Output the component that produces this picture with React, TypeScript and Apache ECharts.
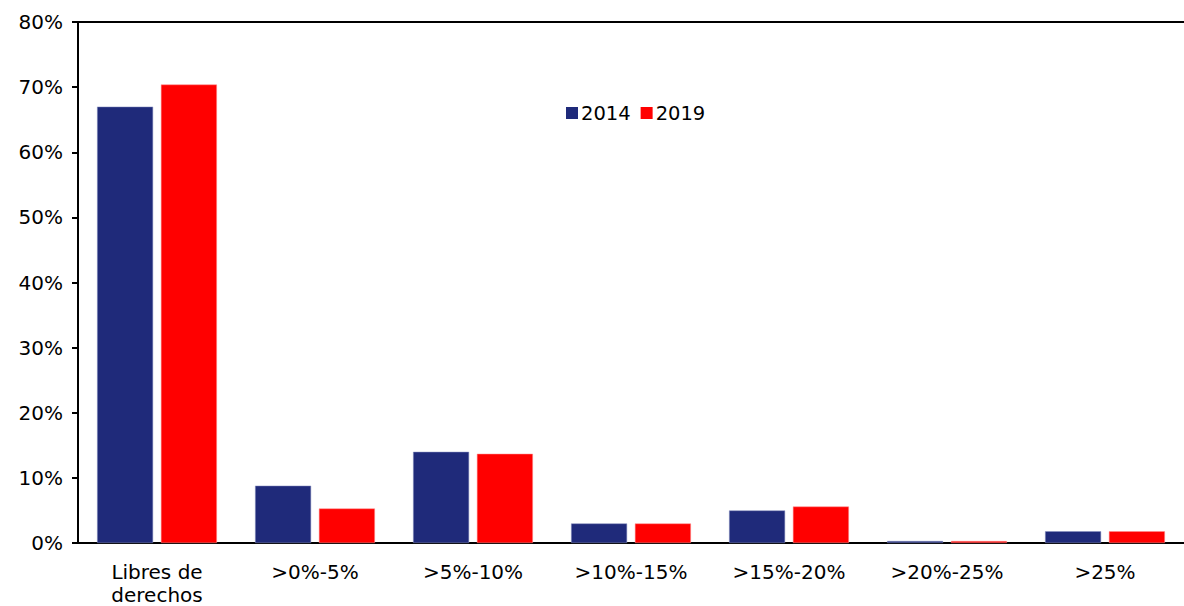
import React, { useEffect, useRef } from "react";
import * as echarts from "echarts";

const categories = ["Libres de\nderechos", ">0%-5%", ">5%-10%", ">10%-15%", ">15%-20%", ">20%-25%", ">25%"];
const series2014 = [67.0, 8.8, 14.0, 3.0, 5.0, 0.3, 1.8];
const series2019 = [70.4, 5.3, 13.7, 3.0, 5.6, 0.3, 1.8];
const seriesNames = ["2014", "2019"];

export default function App() {
  const ref = useRef<HTMLDivElement>(null);
  useEffect(() => {
    if (!ref.current) return;
    const chart = echarts.init(ref.current, null, { renderer: "svg" });
    const font = "DejaVu Sans";
    chart.setOption({
      animation: false,
      backgroundColor: "#ffffff",
      textStyle: { fontFamily: font },
      legend: {
        left: 561,
        top: 98,
        itemWidth: 12,
        itemHeight: 12,
        itemGap: 10,
        icon: "rect",
        itemStyle: { borderWidth: 0 },
        textStyle: { fontFamily: font, fontSize: 19.5, color: "#000", padding: [0, 0, 0, -2] },
        data: seriesNames,
      },
      grid: { left: 78, top: 22, right: -7, bottom: 58, containLabel: false },
      xAxis: {
        type: "category",
        data: categories,
        axisLine: { show: true, lineStyle: { color: "#000", width: 2 } },
        axisTick: { show: false },
        axisLabel: { color: "#000", fontFamily: font, fontSize: 20, margin: 17, lineHeight: 23, interval: 0 },
      },
      yAxis: {
        type: "value",
        min: 0,
        max: 80,
        interval: 10,
        axisLine: { show: true, lineStyle: { color: "#000", width: 2 } },
        axisTick: { show: true, length: 6, lineStyle: { color: "#000", width: 2 } },
        splitLine: { show: false },
        axisLabel: { color: "#000", fontFamily: font, fontSize: 20, margin: 15, formatter: "{value}%" },
      },
      graphic: [
        { type: "line", shape: { x1: 78, y1: 22, x2: 1184, y2: 22 }, style: { stroke: "#000", lineWidth: 2 } },
      ],
      series: [
        {
          name: seriesNames[0],
          type: "bar",
          data: series2014,
          barWidth: 56,
          barGap: "14%",
          itemStyle: { color: "#1F2A7A", borderColor: "#8890c0", borderWidth: 0.5 },
        },
        {
          name: seriesNames[1],
          type: "bar",
          data: series2019,
          barWidth: 56,
          itemStyle: { color: "#FF0000", borderColor: "#ff9090", borderWidth: 0.5 },
        },
      ],
    });
    return () => chart.dispose();
  }, []);
  return (
    <div style={{ position: "absolute", left: 0, top: 0, width: 1184, height: 606, overflow: "hidden" }}>
      <div ref={ref} style={{ width: 1184, height: 606 }} />
    </div>
  );
}
